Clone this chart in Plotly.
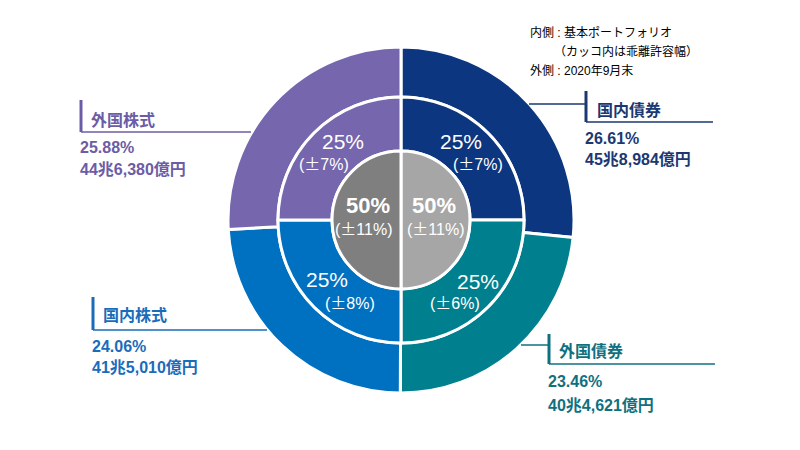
import plotly.graph_objects as go

# ---- data ----
outer_labels = ["国内債券", "外国債券", "国内株式", "外国株式"]
outer_values = [26.61, 23.46, 24.06, 25.88]
outer_amounts = ["45兆8,984億円", "40兆4,621億円", "41兆5,010億円", "44兆6,380億円"]
middle_values = [25, 25, 25, 25]
middle_bands = ["7", "6", "8", "7"]
inner_labels = ["債券", "株式"]
inner_values = [50, 50]
inner_bands = ["11", "11"]

colors = ["#0d3680", "#00808e", "#0070c0", "#7666ad"]
text_colors = ["#1b3873", "#0f7180", "#1a6cba", "#6c5ca6"]
inner_colors = ["#a6a6a6", "#7f7f7f"]

W, H = 800, 450
OFF = 8  # page body margin
CX, CY = 401, 220
R_OUT, R_MID, R_IN = 173, 123, 69


def X(x):
    return (x - OFF) / W


def Y(y):
    return 1 - (y - OFF) / H


def dom(r):
    return dict(x=[X(CX - r), X(CX + r)], y=[Y(CY + r), Y(CY - r)])


FONT = "Liberation Sans, Noto Sans CJK JP"
PM = "<span style='font-family:Noto Sans CJK JP'>±</span>"
fig = go.Figure()
common = dict(sort=False, direction="clockwise", rotation=0, textinfo="none",
              hoverinfo="skip", showlegend=False)
fig.add_trace(go.Pie(labels=outer_labels, values=outer_values, domain=dom(R_OUT),
                     hole=R_MID / R_OUT, marker=dict(colors=colors, line=dict(color="white", width=3)),
                     **common))
fig.add_trace(go.Pie(labels=outer_labels, values=middle_values, domain=dom(R_MID),
                     hole=R_IN / R_MID, marker=dict(colors=colors, line=dict(color="white", width=3)),
                     **common))
fig.add_trace(go.Pie(labels=inner_labels, values=inner_values, domain=dom(R_IN),
                     marker=dict(colors=inner_colors, line=dict(color="white", width=3)),
                     **common))

ann = []


def text(x, y, s, size, color, bold=False, xanchor="center"):
    if bold:
        s = "<b>" + s + "</b>"
    ann.append(dict(x=X(x), y=Y(y), xref="paper", yref="paper", text=s, showarrow=False,
                    xanchor=xanchor, yanchor="middle", borderpad=0,
                    font=dict(family=FONT, size=size, color=color)))


# middle ring labels
mid_pos = [((461, 141), (478, 163)), ((478, 281), (455, 302)),
           ((327, 279), (350, 302)), ((343, 141), (324, 163))]
for i, ((ax, ay), (bx, by)) in enumerate(mid_pos):
    text(ax, ay, f"{middle_values[i]}%", 21, "white")
    text(bx, by, f"({PM}{middle_bands[i]}%)", 16, "white")

# inner labels
inner_pos = [((434, 205), (436, 228)), ((368, 205), (364, 228))]
for i, ((ax, ay), (bx, by)) in enumerate(inner_pos):
    text(ax, ay, f"{inner_values[i]}%", 22, "white", bold=True)
    text(bx, by, f"({PM}{inner_bands[i]}%)", 16, "white")

# callouts
shapes = []
callouts = [
    dict(bx=586, top=91, bot=122, ux=713, tx=596, ty=110, py=138, ay=160, lead=((529, 104), (586, 104))),
    dict(bx=549, top=334, bot=364, ux=715, tx=558, ty=351, py=381, ay=405, lead=((521, 345), (549, 345))),
    dict(bx=93, top=297, bot=330, ux=267, tx=102, ty=315, py=346, ay=367, lead=None),
    dict(bx=81, top=100, bot=132, ux=251, tx=90, ty=120, py=147, ay=169, lead=None),
]
for i, c in enumerate(callouts):
    col = text_colors[i]
    shapes.append(dict(type="line", xref="paper", yref="paper", x0=X(c["bx"]), x1=X(c["bx"]),
                       y0=Y(c["top"]), y1=Y(c["bot"]), line=dict(color=col, width=3)))
    shapes.append(dict(type="line", xref="paper", yref="paper", x0=X(c["bx"]), x1=X(c["ux"]),
                       y0=Y(c["bot"]), y1=Y(c["bot"]), line=dict(color=col, width=1.5)))
    if c["lead"]:
        (x0, y0), (x1, y1) = c["lead"]
        shapes.append(dict(type="line", xref="paper", yref="paper", x0=X(x0), x1=X(x1),
                           y0=Y(y0), y1=Y(y1), line=dict(color=col, width=1.5)))
    text(c["tx"], c["ty"], outer_labels[i], 16, col, bold=True, xanchor="left")
    text(c["bx"] - 2, c["py"], f"{outer_values[i]:.2f}%", 16, col, bold=True, xanchor="left")
    text(c["bx"] - 2, c["ay"], outer_amounts[i], 16, col, bold=True, xanchor="left")

# note
text(529, 33, "内側 : 基本ポートフォリオ", 12, "#000000", xanchor="left")
text(553, 52, "（カッコ内は乖離許容幅）", 12, "#000000", xanchor="left")
text(529, 71, "外側 : 2020年9月末", 12, "#000000", xanchor="left")

fig.update_layout(width=W, height=H, margin=dict(l=0, r=0, t=0, b=0),
                  paper_bgcolor="white", plot_bgcolor="white",
                  annotations=ann, shapes=shapes)
fig.write_html("out.html")
